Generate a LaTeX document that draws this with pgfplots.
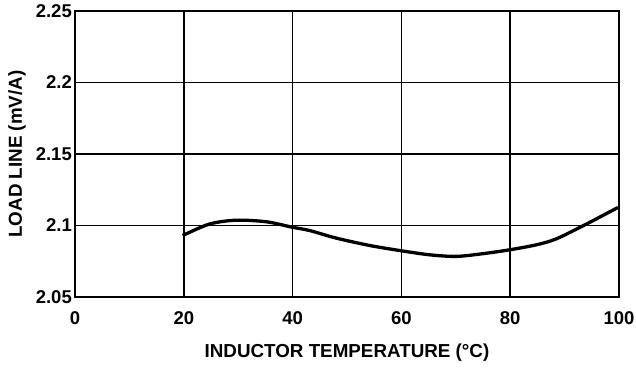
\documentclass[border=0pt]{standalone}
\usepackage{fontspec}
\setmainfont{Liberation Sans}
\usepackage{pgfplots}
\pgfplotsset{compat=1.18}
\begin{document}
\begin{tikzpicture}[x=1pt,y=1pt]
\begin{axis}[
  at={(0,0)}, anchor=south west,
  scale only axis,
  width=544pt, height=286pt,
  xmin=0, xmax=100, ymin=2.05, ymax=2.25,
  xtick={0,20,40,60,80,100},
  ytick={2.05,2.1,2.15,2.2,2.25},
  yticklabels={2.05,2.1,2.15,2.2,2.25},
  xticklabels={0,20,40,60,80,100},
  grid=major,
  major grid style={black, line width=1.5pt},
  axis line style={black, line width=1.5pt},
  major tick length=0pt,
  tick label style={font=\fontsize{18.5}{20}\selectfont\bfseries, inner sep=0pt},
  /pgf/number format/assume math mode=true,
  xticklabel style={anchor=north, yshift=-14pt},
  yticklabel style={anchor=east, xshift=-3pt},
  xlabel={INDUCTOR TEMPERATURE (°C)},
  ylabel={LOAD LINE (mV/A)},
  label style={font=\fontsize{18.8}{20}\selectfont\bfseries, inner sep=0pt},
  xlabel style={at={(axis description cs:0.5,-0.1958)}, anchor=center},
  ylabel style={at={(axis description cs:-0.1066,0.5)}, anchor=center},
]
\addplot[black, line width=3.3pt, smooth, tension=0.5] coordinates {
(19.8,2.0930) (24.7,2.1010) (29.6,2.1037) (35.2,2.1026) (39.8,2.0989)
(43.1,2.0965) (48.0,2.0912) (54.2,2.0860) (59.7,2.0825) (65.2,2.0795)
(70.1,2.0784) (75.0,2.0803) (79.9,2.0830) (84.8,2.0865) (88.5,2.0907)
(94.0,2.1010) (99.8,2.1126)
};
\end{axis}
\path (-75,-70) rectangle (561,297);
\end{tikzpicture}
\end{document}
